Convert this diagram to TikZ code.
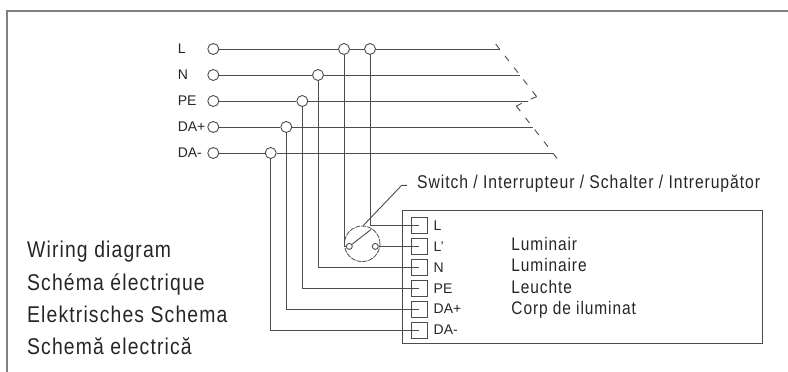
\documentclass[tikz,border=0pt]{standalone}
\usepackage{fontspec}
\setmainfont{Liberation Sans}
\newfontfamily\condfont[FakeStretch=0.85,LetterSpace=5]{Liberation Sans}
\usetikzlibrary{positioning,calc}

\begin{document}
\begin{tikzpicture}[x=1pt, y=-1pt, line width=0.9pt, draw=black!70, node distance=26pt]
\tikzstyle{port}=[circle,draw,fill=white,inner sep=0pt,minimum size=11pt]
\tikzstyle{busname}=[anchor=west,inner sep=0pt,text=black!85,font=\fontsize{14}{16}\selectfont]
\tikzstyle{term}=[draw,inner sep=0pt,minimum size=16pt,node distance=20.9pt,
    label={[busname,anchor=west,xshift=5.5pt]right:#1}]
\tikzstyle{contact}=[circle,draw,inner sep=0pt,minimum size=6pt]
\tikzstyle{caption}=[anchor=north west,inner sep=0pt,align=left,text=black!85]
\tikzstyle{break}=[dash pattern=on 6.5pt off 8.5pt]
\useasboundingbox (0,0) rectangle (788,372);
\draw[black!50,line width=2pt] (788,10.7) -- (7,10.7) -- (7,372);

\node[port]    (pL) at (213.3,49)       {};
\node[port]    (pN)[below of=pL]        {};
\node[port]    (pPE)[below of=pN]       {};
\node[port]    (pDAp)[below of=pPE]     {};
\node[port]    (pDAm)[below of=pDAp]    {};
\node[busname] (nL) at (177.3,49)       {L};
\node[busname] (nN) at (177.3,75)       {N};
\node[busname] (nPE) at (177.3,101)     {PE};
\node[busname] (nDAp) at (177.3,127)    {DA+};
\node[busname] (nDAm) at (177.3,153)    {DA-};

\node[port]    (jLa) at (344,49)        {};
\node[port]    (jLb) at (370,49)        {};
\node[port]    (jN) at (318,75)         {};
\node[port]    (jPE) at (302.3,101)     {};
\node[port]    (jDAp) at (286.3,127)    {};
\node[port]    (jDAm) at (270.7,153)    {};
\coordinate    (eL) at (499.7,49);
\coordinate    (eN) at (520,75);
\coordinate    (ePE) at (527.7,101);
\coordinate    (eDAp) at (533,127);
\coordinate    (eDAm) at (553,153);
\coordinate    (brA) at (495.7,44);
\coordinate    (brB) at (536.7,96.7);
\coordinate    (brC) at (530.7,99);
\coordinate    (brD) at (521.7,103.3);
\coordinate    (brE) at (516.3,106);
\coordinate    (brF) at (557.3,158.7);

\node[draw,minimum width=359.8pt,minimum height=132.8pt,inner sep=0pt] (lum) at (582.6,277.1) {};
\node[term=L]    (tL) at (419.3,225.5)  {};
\node[term=L']   (tLs)[below of=tL]     {};
\node[term=N]    (tN)[below of=tLs]     {};
\node[term=PE]   (tPE)[below of=tN]     {};
\node[term=DA+]  (tDAp)[below of=tPE]   {};
\node[term=DA-]  (tDAm)[below of=tDAp]  {};

\node[circle,draw,line width=0.8pt,dash pattern=on 5pt off 1pt,inner sep=0pt,minimum size=35.6pt] (sw) at (362.2,243.8) {};
\node[contact] (cA) at (349.3,246.4)    {};
\node[contact] (cB) at (375.3,246.4)    {};
\coordinate    (lever) at (371,229.5);
\coordinate    (bend) at (401.7,185.3);

\node[caption,anchor=west,font=\condfont\fontsize{18.5}{21.3}\selectfont] (swtext) at (416.7,184)
    {Switch / Interrupteur / Schalter / Intrerupător};
\node[caption,font=\condfont\fontsize{18.2}{21.3}\selectfont] (lumtext) at (511,237)
    {Luminair\\Luminaire\\Leuchte\\Corp de iluminat};
\node[caption,font=\condfont\fontsize{22.8}{32.2}\selectfont] (title) at (26.7,241)
    {Wiring diagram\\Schéma électrique\\Elektrisches Schema\\Schemă electrică};

\path[draw]
(pL)   edge (jLa)
(jLa)  edge (jLb)
(jLb)  edge (eL)
(pN)   edge (jN)
(jN)   edge (eN)
(pPE)  edge (jPE)
(jPE)  edge (ePE)
(pDAp) edge (jDAp)
(jDAp) edge (eDAp)
(pDAm) edge (jDAm)
(jDAm) edge (eDAm);
\draw (jLb) |- (tL.center);
\draw (jLa.south) |- (cA);
\draw (cB) -- (tLs.center);
\draw (jN) |- (tN.center);
\draw (jPE) |- (tPE.center);
\draw (jDAp) |- (tDAp.center);
\draw (jDAm) |- (tDAm.center);
\draw (cA) -- (lever);
\draw (sw.north) ++(1,0) -- (bend) -- ++(5.5,0);

\draw[break] (brA) -- (brB);
\draw (brB) -- (brC);
\draw (brD) -- (brE);
\draw[break] (brE) -- (brF);
\end{tikzpicture}
\end{document}
